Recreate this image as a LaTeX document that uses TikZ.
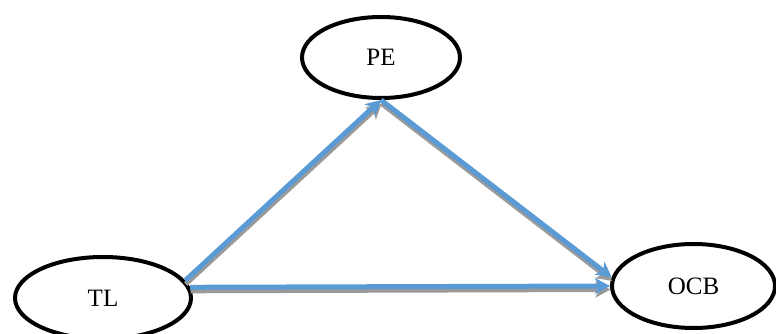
\documentclass[tikz,border=0pt]{standalone}
\usepackage{fontspec}
\setmainfont{Liberation Serif}
\usetikzlibrary{arrows.meta,shapes.geometric}
\definecolor{arrblue}{HTML}{5B9BD5}
\definecolor{arrgray}{HTML}{9A9A9A}
\tikzset{
  var/.style={ellipse, draw=black, line width=4pt, fill=white, font=\fontsize{25}{30}\selectfont, inner sep=0pt},
  arrline/.style={line width=5pt, draw=arrblue, -{Stealth[length=15pt,width=16pt,inset=4pt]}},
  arrshadow/.style={line width=5pt, draw=arrgray, -{Stealth[length=15pt,width=16pt,inset=4pt]}, transform canvas={shift={(0.5pt,-3.5pt)}}}
}
\begin{document}
\begin{tikzpicture}[x=1pt,y=1pt]
\useasboundingbox (0,0) rectangle (776,334);
\node[var, minimum width=158pt, minimum height=81pt] (pe) at (381,276.5) {PE};
\node[var, minimum width=176pt, minimum height=82pt] (tl) at (103,36) {TL};
\node[var, minimum width=163pt, minimum height=84pt] (ocb) at (693.5,48) {OCB};
\draw[arrshadow] (tl.12) -- (pe.south);
\draw[arrshadow] (pe.south) -- (ocb.174);
\draw[arrshadow] (tl.7) -- (ocb.west);
\draw[arrline] (tl.12) -- (pe.south);
\draw[arrline] (pe.south) -- (ocb.174);
\draw[arrline] (tl.7) -- (ocb.west);
\end{tikzpicture}
\end{document}
